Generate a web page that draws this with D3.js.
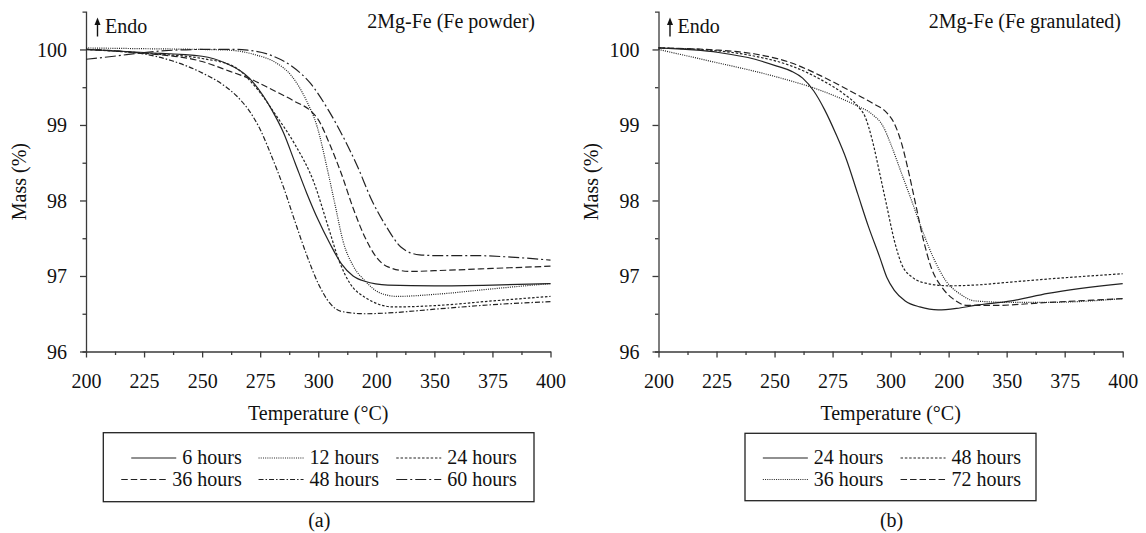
<!DOCTYPE html>
<html><head><meta charset="utf-8">
<script src="https://cdn.jsdelivr.net/npm/d3@7"></script>
<style>
body{margin:0;background:#fff;}
svg text{font-family:'Liberation Serif','Tinos','Times New Roman',serif;}
</style></head>
<body><svg id="c" width="1146" height="533" font-family="Liberation Serif"></svg>
<script>
// ---------- data ----------
const xTickValues = [200,225,250,275,300,325,350,375,400];
const xTickLabels = ["200","225","250","275","300","200","350","375","400"];
const yTickValues = [96,97,98,99,100];
const yTickLabels = ["96","97","98","99","100"];

// Panel (a): 2Mg-Fe (Fe powder) — [temperature, mass %]
const a6h  = [[200,100.0],[225,99.96],[250,99.91],[260,99.82],[270,99.63],[280,99.2],[285,98.9],[290,98.5],[295,98.1],[300,97.74],[305,97.43],[310,97.16],[315,97.0],[320,96.93],[330,96.88],[350,96.87],[375,96.88],[400,96.9]];
const a12h = [[200,100.02],[225,100.01],[250,100.0],[262,99.99],[272.8,99.93],[282,99.82],[288.5,99.65],[294.8,99.33],[299.5,98.98],[304.3,98.36],[307.4,97.92],[310.6,97.47],[315.3,97.12],[320,96.94],[326.3,96.78],[334,96.73],[351.5,96.76],[375,96.83],[400,96.9]];
const a24h = [[200,100.0],[225,99.95],[250,99.88],[263.3,99.78],[272.8,99.51],[282.2,99.11],[290,98.74],[298,98.25],[304.3,97.65],[309,97.2],[313.7,96.9],[320,96.72],[332.6,96.59],[351.5,96.61],[375,96.67],[400,96.73]];
const a36h = [[200,100.0],[225,99.95],[250,99.84],[262,99.71],[270,99.62],[280,99.47],[290,99.31],[297,99.18],[300,99.07],[305,98.74],[310,98.35],[315,97.9],[320,97.52],[325,97.25],[330,97.12],[340,97.06],[350,97.07],[375,97.1],[400,97.13]];
const a48h = [[200,100.0],[225,99.94],[237,99.85],[250,99.69],[260,99.51],[265,99.38],[270,99.2],[275,98.94],[280,98.58],[285,98.18],[290,97.72],[295,97.28],[300,96.9],[305,96.64],[310,96.53],[320,96.5],[330,96.51],[350,96.56],[375,96.62],[400,96.66]];
const a60h = [[200,99.87],[212,99.91],[225,99.96],[250,100.0],[265,100.0],[269.6,99.99],[279,99.93],[288.5,99.78],[296.4,99.56],[304.3,99.2],[310.6,98.85],[316.9,98.45],[323.1,98.0],[329.4,97.65],[335.7,97.38],[343.6,97.28],[351.5,97.27],[367.3,97.27],[383,97.25],[400,97.21]];

// Panel (b): 2Mg-Fe (Fe granulated)
const b24h = [[200,100.02],[225.9,99.96],[241.6,99.87],[251,99.78],[257.4,99.71],[262.1,99.62],[266.9,99.45],[271.6,99.2],[276.3,98.89],[281,98.54],[285.8,98.09],[290.5,97.65],[295.3,97.25],[298.4,96.98],[301.6,96.81],[306.3,96.67],[312.6,96.59],[320.5,96.55],[328.4,96.57],[336.3,96.61],[352,96.67],[367.8,96.77],[400,96.9]];
const b48h = [[200,100.02],[225.9,99.98],[241.6,99.91],[257.4,99.78],[270,99.6],[279.5,99.42],[285.8,99.25],[289,99.11],[292.1,98.8],[295.3,98.36],[298.4,97.92],[301.6,97.47],[304.7,97.16],[309.5,96.98],[315.8,96.9],[325.2,96.87],[336.3,96.88],[352,96.92],[367.8,96.96],[400,97.03]];
const b36h = [[200,100.0],[225.9,99.82],[241.6,99.71],[257.4,99.58],[266.9,99.49],[276.3,99.38],[285.8,99.25],[292.1,99.14],[296.8,98.98],[299.9,98.76],[304.7,98.36],[309.5,97.96],[314.2,97.56],[318.9,97.21],[323.7,96.94],[330,96.76],[336.3,96.67],[352,96.65],[367.8,96.65],[400,96.7]];
const b72h = [[200,100.02],[225.9,99.99],[241.6,99.94],[257.4,99.82],[270,99.65],[282.6,99.45],[292.1,99.29],[298.4,99.16],[301.6,99.02],[304.7,98.76],[307.9,98.36],[311,97.92],[314.2,97.47],[317.4,97.12],[322.1,96.85],[326.8,96.7],[333.1,96.61],[344.2,96.61],[367.8,96.65],[400,96.7]];

const seriesA = [
  {label:"6 hours",  data:a6h,  dash:null},
  {label:"12 hours", data:a12h, dash:"1,1.2"},
  {label:"24 hours", data:a24h, dash:"2.5,1.8"},
  {label:"36 hours", data:a36h, dash:"6.5,3"},
  {label:"48 hours", data:a48h, dash:"5,2,1.5,2"},
  {label:"60 hours", data:a60h, dash:"11,3,2,3"}
];
const seriesB = [
  {label:"24 hours", data:b24h, dash:null},
  {label:"48 hours", data:b48h, dash:"2.5,1.8"},
  {label:"36 hours", data:b36h, dash:"1,1.2"},
  {label:"72 hours", data:b72h, dash:"6.5,3"}
];

const panels = [
  {x0:86, x1:550.5, title:"2Mg-Fe (Fe powder)", titleRight:535, tag:"(a)", series:seriesA,
   legend:{left:103.3, right:534, top:432.7, bottom:501.7, cols:[241.7,379,516.7], order:[[0,1,2],[3,4,5]]}},
  {x0:658.5, x1:1122.7, title:"2Mg-Fe (Fe granulated)", titleRight:1121, tag:"(b)", series:seriesB,
   legend:{left:745, right:1036, top:433.3, bottom:500.7, cols:[883.3,1021], order:[[0,1],[2,3]]}}
];

const svg = d3.select("#c");
const FS = 20;
const FONT = "Liberation Serif";
const ink = "#222";
const axisInk = "#3a3a3a";
const yTop = 11.7, yBot = 351.5;

function txt(sel){ return sel.attr("font-family",FONT).attr("font-size",FS).attr("fill","#111"); }

panels.forEach(p => {
  const x = d3.scaleLinear().domain([200,400]).range([p.x0,p.x1]);
  const y = d3.scaleLinear().domain([96,100.5]).range([yBot,yTop]);
  const g = svg.append("g");

  // minor ticks
  g.append("g").attr("transform",`translate(0,${yBot})`)
    .call(d3.axisBottom(x).tickValues(d3.range(212.5,400,25)).tickSize(3.5).tickFormat(""))
    .call(s=>s.select(".domain").remove());
  g.append("g").attr("transform",`translate(${p.x0},0)`)
    .call(d3.axisLeft(y).tickValues([96.5,97.5,98.5,99.5]).tickSize(3.5).tickFormat(""))
    .call(s=>s.select(".domain").remove());

  // major axes
  const xa = g.append("g").attr("transform",`translate(0,${yBot})`)
    .call(d3.axisBottom(x).tickValues(xTickValues).tickSize(6).tickSizeOuter(0)
      .tickFormat((d,i)=>xTickLabels[i]));
  xa.selectAll("text").attr("y",36).attr("dy",0);
  const ya = g.append("g").attr("transform",`translate(${p.x0},0)`)
    .call(d3.axisLeft(y).tickValues(yTickValues).tickSize(6).tickSizeOuter(3.5)
      .tickFormat((d,i)=>yTickLabels[i]));
  ya.selectAll("text").attr("x",-19).attr("dy","0.33em");

  g.selectAll("g").attr("font-family",FONT).attr("font-size",FS);
  g.selectAll(".tick line, .domain").attr("stroke",axisInk).attr("stroke-width",1.3);
  txt(g.selectAll(".tick text"));

  // lines
  const line = d3.line().x(d=>x(d[0])).y(d=>y(d[1])).curve(d3.curveMonotoneX);
  p.series.forEach(s => {
    g.append("path").datum(s.data).attr("d",line)
      .attr("fill","none").attr("stroke",ink).attr("stroke-width",1.2)
      .attr("stroke-dasharray",s.dash);
  });

  // Endo arrow & text
  const ax = p.x0 + 11.5;
  g.append("line").attr("x1",ax).attr("x2",ax).attr("y1",36.5).attr("y2",23)
    .attr("stroke","#111").attr("stroke-width",1.4);
  g.append("path").attr("d",`M${ax-3},${25} L${ax},${17.5} L${ax+3},${25} Z`).attr("fill","#111");
  txt(g.append("text").attr("x",p.x0+19).attr("y",32.5).text("Endo"));

  // title
  txt(g.append("text").attr("x",p.titleRight).attr("y",28).attr("text-anchor","end").text(p.title));

  // axis titles
  const cx = (p.x0+p.x1)/2;
  txt(g.append("text").attr("x",cx).attr("y",420).attr("text-anchor","middle").text("Temperature (°C)"));
  txt(g.append("text").attr("transform",`translate(${p.x0-60.5},${(yTop+yBot)/2}) rotate(-90)`)
    .attr("text-anchor","middle").text("Mass (%)"));
  txt(g.append("text").attr("x",cx+1).attr("y",527).attr("text-anchor","middle").text(p.tag));

  // legend
  const L = p.legend;
  g.append("rect").attr("x",L.left).attr("y",L.top).attr("width",L.right-L.left).attr("height",L.bottom-L.top)
    .attr("fill","none").attr("stroke","#222").attr("stroke-width",1.3);
  const rowsY = [464,485.5];
  L.order.forEach((row,ri) => row.forEach((si,ci) => {
    const s = p.series[si];
    const t = txt(g.append("text").attr("x",L.cols[ci]).attr("y",rowsY[ri]).attr("text-anchor","end").text(s.label));
    const w = t.node().getComputedTextLength();
    const xe = L.cols[ci]-w-6;
    g.append("line").attr("x1",xe-45).attr("x2",xe).attr("y1",rowsY[ri]-6).attr("y2",rowsY[ri]-6)
      .attr("stroke",ink).attr("stroke-width",1.2).attr("stroke-dasharray",s.dash);
  }));
});
</script></body></html>
